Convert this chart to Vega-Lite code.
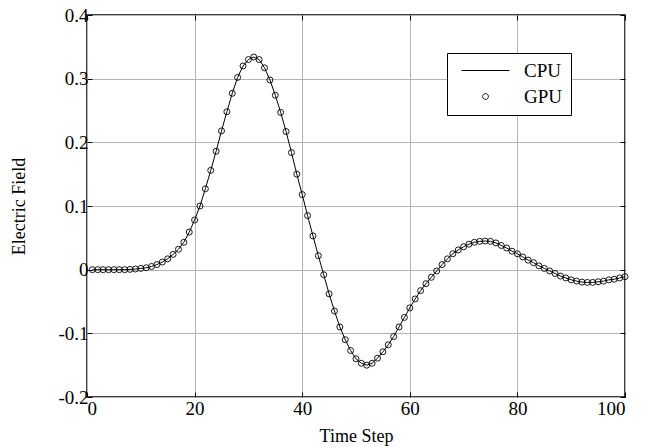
{
  "$schema": "https://vega.github.io/schema/vega-lite/v6.json",
  "width": 538,
  "height": 382,
  "autosize": "none",
  "padding": {"left": 87, "top": 15, "right": 35, "bottom": 50},
  "background": "white",
  "config": {
    "view": {"stroke": "black", "strokeWidth": 1.5},
    "font": "Liberation Serif",
    "axis": {
      "labelFont": "Liberation Serif",
      "titleFont": "Liberation Serif",
      "labelFontSize": 19,
      "titleFontSize": 18,
      "labelColor": "black",
      "titleColor": "black",
      "titleFontWeight": "normal",
      "domain": false,
      "tickColor": "black",
      "tickSize": -5,
      "tickWidth": 1,
      "gridColor": "#b4b4b4",
      "gridWidth": 1,
      "gridOpacity": 1
    }
  },
  "data": {
    "values": [
      {"step": 1, "field": 0}, {"step": 2, "field": 0}, {"step": 3, "field": 0}, {"step": 4, "field": 0},
      {"step": 5, "field": 0}, {"step": 6, "field": 0}, {"step": 7, "field": 0}, {"step": 8, "field": 0.0005},
      {"step": 9, "field": 0.001}, {"step": 10, "field": 0.002}, {"step": 11, "field": 0.003}, {"step": 12, "field": 0.005},
      {"step": 13, "field": 0.008}, {"step": 14, "field": 0.012}, {"step": 15, "field": 0.017}, {"step": 16, "field": 0.024},
      {"step": 17, "field": 0.032}, {"step": 18, "field": 0.043}, {"step": 19, "field": 0.059}, {"step": 20, "field": 0.078},
      {"step": 21, "field": 0.100}, {"step": 22, "field": 0.127}, {"step": 23, "field": 0.156}, {"step": 24, "field": 0.186},
      {"step": 25, "field": 0.218}, {"step": 26, "field": 0.248}, {"step": 27, "field": 0.277}, {"step": 28, "field": 0.302},
      {"step": 29, "field": 0.320}, {"step": 30, "field": 0.330}, {"step": 31, "field": 0.334}, {"step": 32, "field": 0.330},
      {"step": 33, "field": 0.317}, {"step": 34, "field": 0.298}, {"step": 35, "field": 0.274}, {"step": 36, "field": 0.247},
      {"step": 37, "field": 0.217}, {"step": 38, "field": 0.184}, {"step": 39, "field": 0.150}, {"step": 40, "field": 0.118},
      {"step": 41, "field": 0.085}, {"step": 42, "field": 0.053}, {"step": 43, "field": 0.022}, {"step": 44, "field": -0.008},
      {"step": 45, "field": -0.038}, {"step": 46, "field": -0.065}, {"step": 47, "field": -0.090}, {"step": 48, "field": -0.110},
      {"step": 49, "field": -0.127}, {"step": 50, "field": -0.140}, {"step": 51, "field": -0.147}, {"step": 52, "field": -0.150},
      {"step": 53, "field": -0.147}, {"step": 54, "field": -0.139}, {"step": 55, "field": -0.129}, {"step": 56, "field": -0.118},
      {"step": 57, "field": -0.105}, {"step": 58, "field": -0.090}, {"step": 59, "field": -0.075}, {"step": 60, "field": -0.060},
      {"step": 61, "field": -0.046}, {"step": 62, "field": -0.033}, {"step": 63, "field": -0.022}, {"step": 64, "field": -0.012},
      {"step": 65, "field": -0.002}, {"step": 66, "field": 0.008}, {"step": 67, "field": 0.017}, {"step": 68, "field": 0.025},
      {"step": 69, "field": 0.031}, {"step": 70, "field": 0.036}, {"step": 71, "field": 0.040}, {"step": 72, "field": 0.043},
      {"step": 73, "field": 0.0445}, {"step": 74, "field": 0.045}, {"step": 75, "field": 0.0445}, {"step": 76, "field": 0.042},
      {"step": 77, "field": 0.038}, {"step": 78, "field": 0.034}, {"step": 79, "field": 0.029}, {"step": 80, "field": 0.025},
      {"step": 81, "field": 0.020}, {"step": 82, "field": 0.015}, {"step": 83, "field": 0.011}, {"step": 84, "field": 0.006},
      {"step": 85, "field": 0.002}, {"step": 86, "field": -0.002}, {"step": 87, "field": -0.006}, {"step": 88, "field": -0.010},
      {"step": 89, "field": -0.013}, {"step": 90, "field": -0.016}, {"step": 91, "field": -0.018}, {"step": 92, "field": -0.0195},
      {"step": 93, "field": -0.020}, {"step": 94, "field": -0.020}, {"step": 95, "field": -0.019}, {"step": 96, "field": -0.018},
      {"step": 97, "field": -0.016}, {"step": 98, "field": -0.015}, {"step": 99, "field": -0.013}, {"step": 100, "field": -0.011}
    ]
  },
  "layer": [
    {
      "mark": {"type": "line", "color": "black", "strokeWidth": 1},
      "encoding": {
        "x": {
          "field": "step", "type": "quantitative",
          "scale": {"domain": [0, 100], "nice": false, "zero": false},
          "axis": {"values": [0, 20, 40, 60, 80, 100], "title": "Time Step", "titlePadding": 9, "labelPadding": 7, "grid": true}
        },
        "y": {
          "field": "field", "type": "quantitative",
          "scale": {"domain": [-0.2, 0.4], "nice": false, "zero": false},
          "axis": {
            "values": [-0.2, -0.1, 0, 0.1, 0.2, 0.3, 0.4],
            "labelExpr": "(datum.value < 0 ? '-' : '') + format(abs(datum.value), '.1~f')",
            "title": "Electric Field", "titlePadding": 29, "labelPadding": 4, "grid": true
          }
        }
      }
    },
    {
      "mark": {"type": "point", "shape": "circle", "filled": false, "stroke": "black", "strokeWidth": 0.9, "size": 36, "opacity": 1},
      "encoding": {
        "x": {
          "field": "step", "type": "quantitative",
          "axis": {"orient": "top", "values": [0, 20, 40, 60, 80, 100], "labels": false, "title": null, "grid": false}
        },
        "y": {
          "field": "field", "type": "quantitative",
          "axis": {"orient": "right", "values": [-0.2, -0.1, 0, 0.1, 0.2, 0.3, 0.4], "labels": false, "title": null, "grid": false}
        }
      }
    },
    {
      "mark": {"type": "point", "opacity": 0, "filled": false},
      "encoding": {
        "shape": {
          "datum": "GPU", "type": "nominal",
          "scale": {"domain": ["CPU", "GPU"], "range": ["M-1,0L15,0", "M7.97,0A0.97,0.97 0 1,1 6.03,0A0.97,0.97 0 1,1 7.97,0Z"]},
          "legend": {
            "title": null,
            "orient": "none",
            "legendX": 360,
            "legendY": 38,
            "direction": "vertical",
            "padding": 8,
            "strokeColor": "black",
            "fillColor": "white",
            "cornerRadius": 0,
            "labelFont": "Liberation Serif",
            "labelFontSize": 19,
            "labelColor": "black",
            "labelOffset": 50,
            "rowPadding": 6,
            "symbolSize": 36,
            "symbolOpacity": 1,
            "symbolStrokeColor": "black",
            "symbolFillColor": "transparent",
            "symbolStrokeWidth": 1
          }
        }
      }
    }
  ],
  "resolve": {"axis": {"x": "independent", "y": "independent"}}
}
